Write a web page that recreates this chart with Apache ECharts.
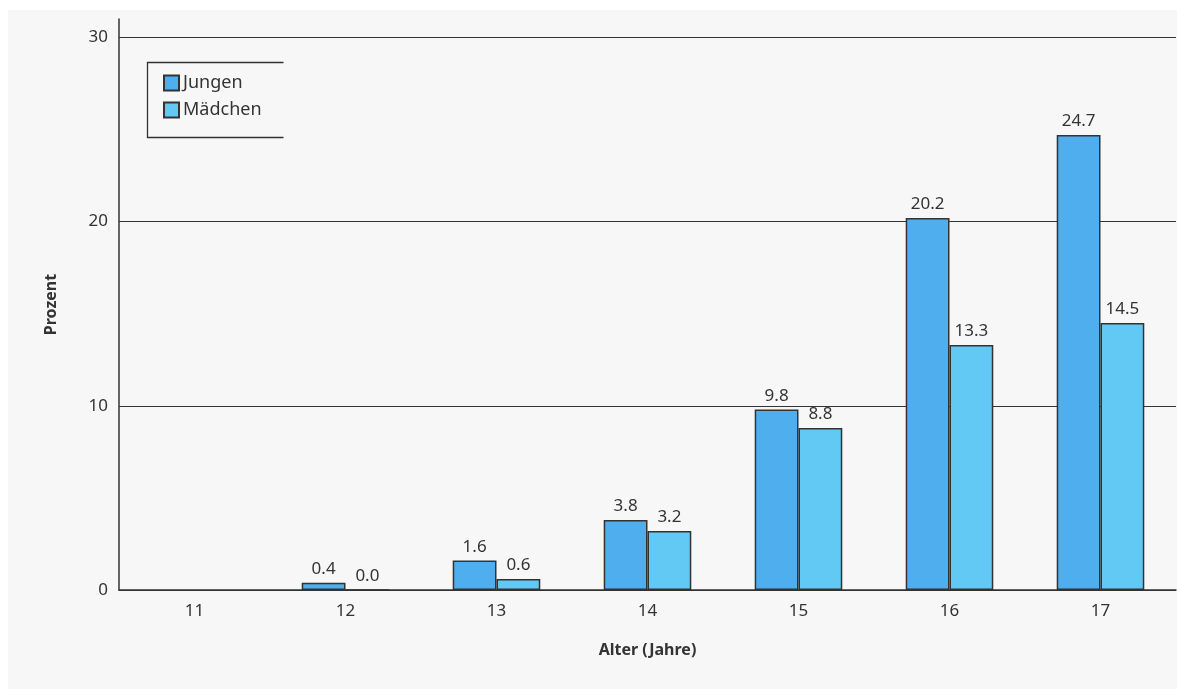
<!DOCTYPE html>
<html><head><meta charset="utf-8">
<script src="https://cdn.jsdelivr.net/npm/echarts@6/dist/echarts.min.js"></script>
<style>
html,body{margin:0;padding:0;background:#fff;width:1177px;height:689px;overflow:hidden}
#c{position:absolute;left:8px;top:10px;width:1169px;height:679px;background:#f7f7f7}
</style></head><body><div id="c"></div>
<script>
const categories = ['11','12','13','14','15','16','17'];
const jungen = [null, 0.4, 1.6, 3.8, 9.8, 20.2, 24.7];
const maedchen = [null, 0.0, 0.6, 3.2, 8.8, 13.3, 14.5];
const seriesNames = ['Jungen', 'Mädchen'];

const FONT = '"Noto Sans", "Open Sans", sans-serif';
const chart = echarts.init(document.getElementById('c'), null, {renderer:'canvas'});
const lbl = {show:true, position:'top', distance:5, color:'#333', fontSize:17, fontFamily:FONT,
  formatter: p => p.value == null ? '' : Number(p.value).toFixed(1)};
chart.setOption({
  backgroundColor:'#f7f7f7',
  animation:false,
  grid:{left:111, right:1, top:9, bottom:99},
  legend:{
    orient:'vertical', left:150, top:59, itemWidth:15, itemHeight:15, itemGap:9,
    icon:'rect',
    textStyle:{fontSize:18, color:'#333', fontFamily:FONT, padding:[0,0,0,-1]},
    data:seriesNames
  },
  graphic:[{
    type:'polyline', left:137, top:50, silent:true,
    shape:{points:[[136,0],[0,0],[0,75],[136,75]]},
    style:{stroke:'#333', lineWidth:1.3, fill:null}
  }],
  xAxis:{
    type:'category', data:categories,
    name:'Alter (Jahre)', nameLocation:'middle', nameGap:52,
    nameTextStyle:{fontSize:16, fontWeight:'bold', color:'#333', fontFamily:FONT},
    axisLine:{lineStyle:{color:'#333', width:1.5}},
    axisTick:{show:false},
    axisLabel:{fontSize:17, color:'#333', margin:13, fontFamily:FONT}
  },
  yAxis:{
    type:'value', min:0, max:31, interval:10,
    name:'Prozent', nameLocation:'middle', nameGap:60, nameRotate:90,
    nameTextStyle:{fontSize:16, fontWeight:'bold', color:'#333', fontFamily:FONT},
    axisLine:{show:true, lineStyle:{color:'#333', width:1.5}},
    axisTick:{show:false},
    axisLabel:{fontSize:17, color:'#333', margin:11, fontFamily:FONT, showMaxLabel:false},
    splitLine:{show:true, showMaxLine:false, lineStyle:{color:'#333', width:1.2}}
  },
  series:[
    {name:seriesNames[0], type:'bar', data:jungen, barGap:'0%', barCategoryGap:'42%',
     itemStyle:{color:'#4faeed', borderColor:'#333', borderWidth:1.5}, label:lbl},
    {name:seriesNames[1], type:'bar', data:maedchen,
     itemStyle:{color:'#62c8f4', borderColor:'#333', borderWidth:1.5}, label:lbl}
  ]
});
</script></body></html>
